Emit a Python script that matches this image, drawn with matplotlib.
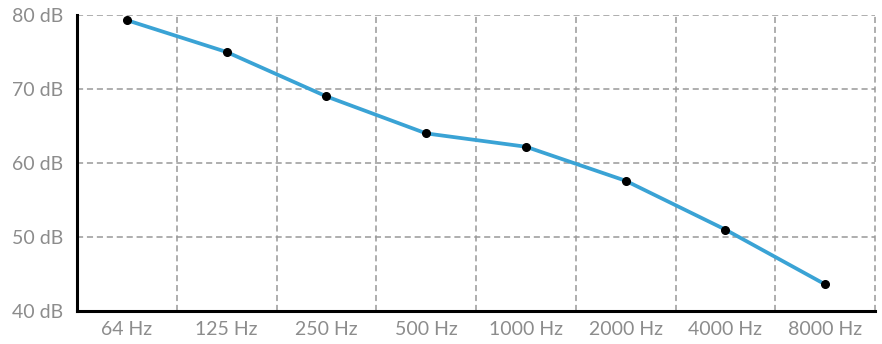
import matplotlib.pyplot as plt

# Audiogram-like data
freqs = ['64 Hz', '125 Hz', '250 Hz', '500 Hz', '1000 Hz', '2000 Hz', '4000 Hz', '8000 Hz']
levels = [79.3, 75.0, 69.0, 64.0, 62.2, 57.6, 51.0, 43.6]
yticks = [40, 50, 60, 70, 80]
ytick_labels = ['40 dB', '50 dB', '60 dB', '70 dB', '80 dB']

fig = plt.figure(figsize=(8.82, 3.44), dpi=100)
ax = fig.add_axes([77 / 882, 1 - 311 / 344, (875 - 77) / 882, (311 - 15) / 344])

x = range(len(freqs))
ax.plot(x, levels, color='#3aa3d5', linewidth=2.7, zorder=3)
ax.plot(x, levels, 'o', color='black', markersize=5.5, zorder=4)

ax.set_xlim(-0.5, len(freqs) - 0.5)
ax.set_ylim(40, 80)

# dashed grid: horizontals at ticks, verticals between categories
grid_kw = dict(color='#999999', linestyle=(0, (4, 2.5)), linewidth=1.1, zorder=1)
for yv in yticks[1:]:
    ax.axhline(yv, **grid_kw)
for i in range(len(freqs)):
    ax.axvline(i + 0.5, **grid_kw, clip_on=False)

ax.set_xticks(list(x))
ax.set_xticklabels(freqs)
ax.set_yticks(yticks)
ax.set_yticklabels(ytick_labels)

for lbl in ax.get_xticklabels() + ax.get_yticklabels():
    lbl.set_fontfamily('Lato')
    lbl.set_fontsize(14)
    lbl.set_color('#8c8c8c')

ax.tick_params(length=0, pad=10)
ax.tick_params(axis='x', pad=7)

for side in ['top', 'right']:
    ax.spines[side].set_visible(False)
ax.spines['left'].set_linewidth(2.2)
ax.spines['bottom'].set_linewidth(2.2)
ax.spines['left'].set_zorder(5)
ax.spines['bottom'].set_zorder(5)

fig.savefig('out.png', dpi=100)
